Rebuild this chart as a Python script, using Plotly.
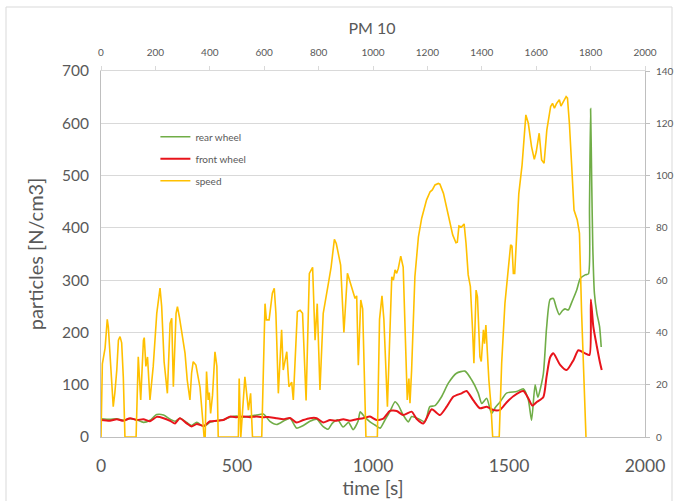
import plotly.graph_objects as go

# ---- data ----
speed_t = [0, 5, 15, 23, 27, 33, 39, 45, 51, 58, 64, 70, 76, 82, 88, 129, 137, 146, 156, 159, 165, 171, 180, 192,
           205, 217, 223, 232, 244, 254, 260, 266, 276, 281, 288, 297, 309, 317, 327, 333, 339, 349, 358, 364, 374,
           379, 383, 388, 394, 398, 403, 410, 419, 426, 431, 505, 508, 514, 529, 542, 550, 557, 591, 603, 608, 618,
           630, 637, 643, 652, 664, 670, 683, 691, 701, 707, 722, 732, 741, 754, 766, 778, 787, 795, 805, 817, 836,
           846, 858, 865, 881, 893, 906, 922, 934, 940, 946, 955, 962, 974, 1016, 1024, 1033, 1040, 1053, 1069,
           1075, 1081, 1087, 1093, 1102, 1111, 1118, 1126, 1132, 1136, 1142, 1154, 1167, 1179, 1197, 1210, 1218,
           1228, 1240, 1246, 1259, 1271, 1283, 1293, 1305, 1310, 1316, 1325, 1335, 1342, 1350, 1358, 1366, 1371,
           1379, 1384, 1393, 1398, 1406, 1410, 1415, 1420, 1426, 1433, 1440, 1464, 1473, 1485, 1494, 1506, 1511,
           1516, 1521, 1528, 1536, 1548, 1562, 1571, 1583, 1593, 1600, 1611, 1620, 1629, 1639, 1653, 1660, 1667,
           1675, 1685, 1691, 1700, 1710, 1715, 1722, 1730, 1739, 1751, 1759, 1767, 1776, 1783]
speed_v = [0, 28, 34, 45, 42, 32, 21, 11.6, 17, 25.6, 37, 38.4, 36, 23, 0, 0, 30.7, 14.2, 37, 38, 27, 30.6, 14.2, 27,
           47.3, 57, 50, 28.8, 16.7, 43.5, 45.4, 19.2, 47.3, 49.9, 46, 39.7, 32, 21.8, 14.2, 24.4, 28.8, 27.5, 21.8,
           19, 6.5, 0, 0, 25, 14.2, 17, 9, 16, 32.6, 27, 0, 0, 22.4, 0, 23, 10.3, 16.7, 0, 0, 51, 44.8, 44.8, 55,
           56.9, 47.3, 16.7, 41, 25.6, 32.6, 19.2, 21, 14.2, 48, 48.5, 47.3, 14, 62.6, 64.9, 37, 51, 18, 47.3, 58.8,
           65, 75.6, 74, 65.8, 40, 62.6, 57.5, 53, 54, 27.5, 52.4, 49, 0, 0, 45, 54, 45, 11.6, 61.3, 60, 63.9, 62.6,
           64.5, 69.2, 65, 38.4, 14.2, 22.4, 12.9, 25.6, 61.3, 76.6, 83.7, 90.7, 93.8, 94.5, 96.4, 97, 96.7, 93.2,
           88, 81.7, 77.3, 74.3, 74.5, 80.7, 80.3, 81.5, 74.1, 62, 57.5, 41, 28.2, 56.2, 53.6, 30.7, 28.9, 41, 35.7,
           42.8, 30.7, 21.8, 13, 0, 0, 28.2, 51, 60, 73.5, 73, 62.6, 62.6, 76, 93, 104, 123.2, 120, 111, 106.2, 109,
           116.2, 106, 104.7, 117.4, 126.4, 127.6, 125.8, 127.6, 129, 126.6, 128.3, 130.2, 129.6, 120, 104.7, 86.8,
           83, 78, 47.3, 21.8, 0]

front_t = [0, 33, 58, 82, 107, 131, 156, 180, 205, 230, 254, 272, 290, 315, 333, 352, 377, 401, 425, 450, 474, 499,
           523, 548, 572, 597, 621, 646, 670, 695, 719, 744, 768, 793, 817, 842, 866, 891, 915, 940, 964, 989, 1013,
           1038, 1062, 1087, 1111, 1142, 1160, 1185, 1216, 1246, 1271, 1295, 1326, 1344, 1369, 1393, 1418, 1442,
           1467, 1491, 1516, 1553, 1571, 1586, 1602, 1626, 1638, 1651, 1663, 1688, 1712, 1737, 1755, 1780, 1796,
           1801, 1810, 1823, 1835, 1841]
front_v = [32.5, 31, 34, 31, 36, 32.5, 34, 30, 38.5, 36, 31, 26, 36, 26, 20, 25, 21, 30, 31, 32.5, 39, 38, 39, 38,
           39, 38, 38, 36, 34, 36.5, 27.6, 32.5, 36, 36, 27.6, 32.5, 31, 34, 31, 34, 36, 39, 32.5, 35, 50, 49.7, 42,
           48.5, 35, 26, 53, 42, 58, 77, 83.6, 88, 70, 55, 58, 51.6, 52, 66, 78, 88, 74, 60, 67, 76, 115, 152, 160,
           138, 128, 147, 166, 160, 157, 263, 211, 173, 141, 128]

rear_t = [0, 33, 58, 82, 107, 131, 156, 180, 205, 230, 254, 272, 290, 315, 333, 352, 377, 401, 425, 450, 474, 499,
          523, 548, 572, 597, 621, 646, 670, 695, 719, 744, 768, 793, 817, 835, 850, 870, 890, 910, 927, 945, 953,
          970, 989, 1007, 1026, 1044, 1062, 1081, 1093, 1111, 1130, 1142, 1167, 1191, 1209, 1228, 1252, 1277, 1307,
          1338, 1363, 1387, 1400, 1418, 1436, 1449, 1467, 1491, 1528, 1553, 1571, 1583, 1596, 1606, 1626, 1638,
          1651, 1663, 1673, 1685, 1697, 1706, 1718, 1731, 1749, 1762, 1780, 1792, 1796, 1800, 1804, 1808, 1814,
          1823, 1833, 1839]
rear_v = [35, 34, 35, 32, 35, 33, 28, 32, 43, 42, 34, 30, 36, 28, 22, 28, 20, 28, 31, 33, 38, 40, 38, 40, 42, 44,
          30, 24, 30, 36, 17, 22, 30, 34, 20, 15, 26, 33, 19, 28, 14, 30, 48, 38, 29, 23, 17, 32.5, 48.5, 67.5, 61,
          42, 29, 39, 35, 29, 58, 60, 77, 103, 122, 126, 109, 84, 64, 74, 45, 56, 67, 84, 87, 92, 71, 32, 100, 76,
          120, 208, 263, 265, 249, 234, 242, 245, 243, 258, 281, 303, 310, 312, 440, 628, 491, 364, 275, 237, 211,
          172]

names = ["rear wheel", "front wheel", "speed"]
colors = ["#70AD47", "#E8141B", "#FFC000"]

FONT = "Lato, Open Sans, sans-serif"
GREY = "#595959"

fig = go.Figure()
fig.add_trace(go.Scatter(x=rear_t, y=rear_v, name=names[0], mode="lines", legendgroup="a",
                         line=dict(color=colors[0], width=1.6, shape="spline", smoothing=0.6),
                         xaxis="x", yaxis="y"))
fig.add_trace(go.Scatter(x=front_t, y=front_v, name=names[1], mode="lines", legendgroup="b",
                         line=dict(color=colors[1], width=2, shape="spline", smoothing=0.6),
                         xaxis="x", yaxis="y"))
fig.add_trace(go.Scatter(x=speed_t, y=speed_v, name=names[2], mode="lines", legendgroup="c",
                         line=dict(color=colors[2], width=1.6),
                         xaxis="x2", yaxis="y2"))

fig.update_layout(
    width=674, height=501,
    margin=dict(l=101, r=29, t=71, b=64, autoexpand=False),
    paper_bgcolor="white", plot_bgcolor="white",
    font=dict(family=FONT, color=GREY),
    title=dict(text="PM 10", x=(372) / 674, xanchor="center", y=1 - 28 / 501, yanchor="middle",
               font=dict(size=16, color=GREY, family=FONT)),
    showlegend=True,
    legend=dict(x=0.1, y=0.86, xanchor="left", yanchor="top", bgcolor="rgba(0,0,0,0)",
                font=dict(size=10, color=GREY), itemwidth=30, tracegroupgap=3),
    xaxis=dict(range=[0, 2000], dtick=500, tick0=0, showgrid=False, zeroline=False, automargin=False,
               showline=True, linecolor="#BFBFBF", linewidth=1, ticks="",
               tickfont=dict(size=17.5, color=GREY), ticklabelstandoff=13,
               title=dict(text="time [s]", font=dict(size=19, color=GREY), standoff=2)),
    xaxis2=dict(range=[0, 2000], dtick=200, tick0=0, overlaying="x", side="top", showgrid=False,
                zeroline=False, showline=True, linecolor="#D9D9D9", linewidth=1, automargin=False,
                ticks="outside", ticklen=4, tickcolor="#D9D9D9",
                tickfont=dict(size=10, color=GREY), ticklabelstandoff=6),
    yaxis=dict(range=[0, 700], dtick=100, tick0=0, showgrid=True, gridcolor="#D9D9D9", gridwidth=1,
               zeroline=False, showline=True, linecolor="#BFBFBF", linewidth=1, ticks="", automargin=False,
               tickfont=dict(size=15.5, color=GREY), ticklabelstandoff=8,
               title=dict(text="particles [N/cm3]", font=dict(size=20, color=GREY), standoff=12)),
    yaxis2=dict(range=[0, 140], dtick=20, tick0=0, overlaying="y", side="right", showgrid=False,
                zeroline=False, showline=True, linecolor="#BFBFBF", linewidth=1, automargin=False,
                ticks="outside", ticklen=4, tickcolor="#BFBFBF",
                tickfont=dict(size=10, color=GREY), ticklabelstandoff=4),
    shapes=[dict(type="rect", xref="paper", yref="paper",
                 x0=(6 - 101) / 544, x1=(672 - 101) / 544, y0=(437 - 503) / 366, y1=(437 - 7) / 366,
                 line=dict(color="#D9D9D9", width=1), fillcolor="rgba(0,0,0,0)", layer="below")],
)

fig.write_html("out.html")
